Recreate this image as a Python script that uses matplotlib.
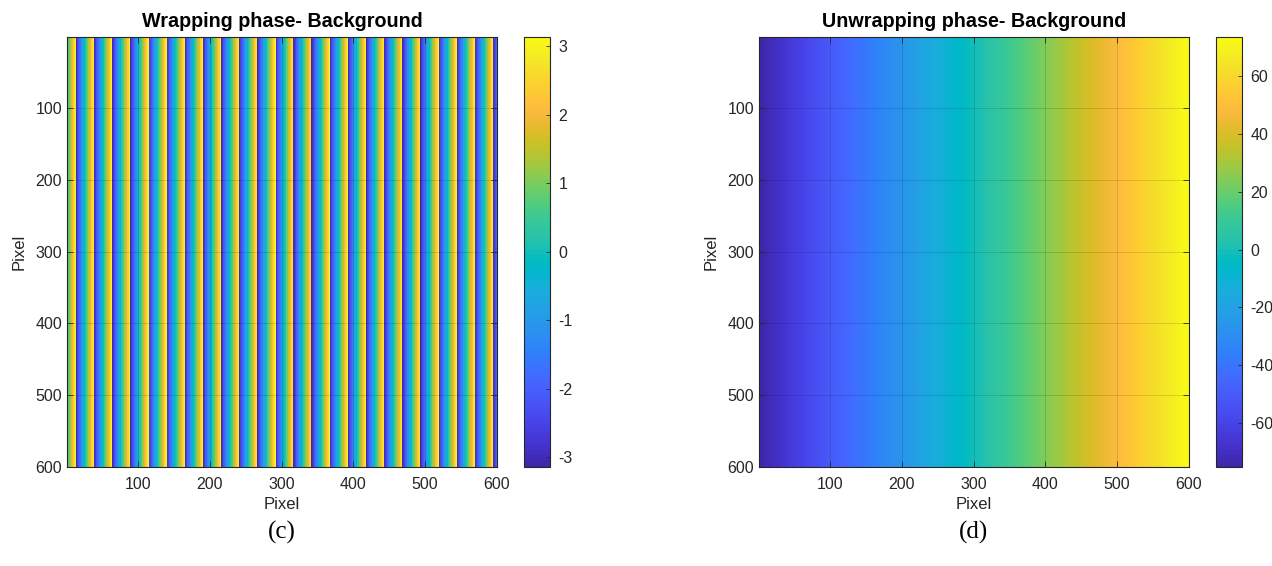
import numpy as np
import matplotlib
matplotlib.use("Agg")
import matplotlib.pyplot as plt
from matplotlib.colors import LinearSegmentedColormap

# MATLAB parula (64 entries)
PARULA = [
    [0.2422, 0.1504, 0.6603], [0.2504, 0.1650, 0.7076], [0.2578, 0.1818, 0.7511],
    [0.2647, 0.1978, 0.7952], [0.2706, 0.2147, 0.8364], [0.2751, 0.2342, 0.8710],
    [0.2783, 0.2559, 0.8991], [0.2803, 0.2782, 0.9221], [0.2813, 0.3006, 0.9414],
    [0.2810, 0.3228, 0.9579], [0.2795, 0.3447, 0.9717], [0.2760, 0.3667, 0.9829],
    [0.2699, 0.3892, 0.9906], [0.2602, 0.4123, 0.9952], [0.2440, 0.4358, 0.9988],
    [0.2206, 0.4603, 0.9973], [0.1963, 0.4847, 0.9892], [0.1834, 0.5074, 0.9798],
    [0.1786, 0.5289, 0.9682], [0.1764, 0.5499, 0.9520], [0.1687, 0.5703, 0.9359],
    [0.1540, 0.5902, 0.9218], [0.1460, 0.6091, 0.9079], [0.1380, 0.6276, 0.8973],
    [0.1248, 0.6459, 0.8883], [0.1113, 0.6635, 0.8763], [0.0952, 0.6798, 0.8598],
    [0.0689, 0.6948, 0.8394], [0.0297, 0.7082, 0.8163], [0.0036, 0.7203, 0.7917],
    [0.0067, 0.7312, 0.7660], [0.0433, 0.7411, 0.7394], [0.0964, 0.7500, 0.7120],
    [0.1408, 0.7584, 0.6842], [0.1717, 0.7670, 0.6554], [0.1938, 0.7758, 0.6251],
    [0.2161, 0.7843, 0.5923], [0.2470, 0.7918, 0.5567], [0.2906, 0.7973, 0.5188],
    [0.3406, 0.8008, 0.4789], [0.3909, 0.8029, 0.4354], [0.4456, 0.8024, 0.3909],
    [0.5044, 0.7993, 0.3480], [0.5616, 0.7942, 0.3045], [0.6174, 0.7876, 0.2612],
    [0.6720, 0.7793, 0.2227], [0.7242, 0.7698, 0.1910], [0.7738, 0.7598, 0.1646],
    [0.8203, 0.7498, 0.1535], [0.8634, 0.7406, 0.1596], [0.9035, 0.7330, 0.1774],
    [0.9393, 0.7288, 0.2100], [0.9728, 0.7298, 0.2394], [0.9956, 0.7434, 0.2371],
    [0.9970, 0.7659, 0.2199], [0.9952, 0.7893, 0.2028], [0.9892, 0.8136, 0.1885],
    [0.9786, 0.8386, 0.1766], [0.9676, 0.8639, 0.1643], [0.9610, 0.8890, 0.1537],
    [0.9597, 0.9135, 0.1423], [0.9628, 0.9373, 0.1265], [0.9691, 0.9606, 0.1064],
    [0.9769, 0.9839, 0.0805],
]
parula = LinearSegmentedColormap.from_list("parula", PARULA, N=256)

# background phase: 600x600 pixels, linear carrier along x
N_PIX = 600
PHASE_LEFT = -75.2    # unwrapped phase at column 1 (rad)
PHASE_RIGHT = 73.5    # unwrapped phase at column 600 (rad)
PIXEL_TICKS = [100, 200, 300, 400, 500, 600]
WRAP_TICKS = [-3, -2, -1, 0, 1, 2, 3]
UNWRAP_TICKS = [-60, -40, -20, 0, 20, 40, 60]
TITLES = ["Wrapping phase- Background", "Unwrapping phase- Background"]
CAPTIONS = ["(c)", "(d)"]

row = np.linspace(PHASE_LEFT, PHASE_RIGHT, N_PIX)
unwrapped = np.tile(row, (N_PIX, 1))
wrapped = np.angle(np.exp(1j * unwrapped))

plt.rcParams["font.family"] = ["Liberation Sans", "DejaVu Sans"]
plt.rcParams["axes.unicode_minus"] = False
TXT = "#262626"

fig = plt.figure(figsize=(12.72, 5.66), dpi=100)
W, H = 1272, 566


def rect(x0, y0, x1, y1):
    return [x0 / W, 1 - y1 / H, (x1 - x0) / W, (y1 - y0) / H]


panels = [
    (wrapped, WRAP_TICKS, rect(67, 37, 497, 467), rect(524, 37, 550, 467)),
    (unwrapped, UNWRAP_TICKS, rect(759, 37, 1189, 467), rect(1216, 37, 1242, 467)),
]

for (img, cticks, ax_r, cb_r), title, cap in zip(panels, TITLES, CAPTIONS):
    ax = fig.add_axes(ax_r)
    im = ax.imshow(img, cmap=parula, aspect="auto", interpolation="nearest",
                   extent=(0.5, N_PIX + 0.5, N_PIX + 0.5, 0.5))
    ax.set_xticks(PIXEL_TICKS)
    ax.set_yticks(PIXEL_TICKS)
    ax.tick_params(direction="in", length=4, width=0.6, labelsize=11.5,
                   colors=TXT, top=True, right=True)
    ax.tick_params(axis="x", pad=7)
    ax.grid(True, color="k", alpha=0.15, linewidth=0.6)
    ax.set_axisbelow(False)
    for s in ax.spines.values():
        s.set_linewidth(0.8)
        s.set_color(TXT)
    ax.set_xlabel("Pixel", fontsize=12, color=TXT, labelpad=4)
    ax.set_ylabel("Pixel", fontsize=12, color=TXT, labelpad=6)
    ax.set_title(title, fontsize=14.2, fontweight="bold", color="k", pad=7)

    cax = fig.add_axes(cb_r)
    cb = fig.colorbar(im, cax=cax)
    cb.set_ticks(cticks)
    cb.ax.tick_params(direction="in", length=3, width=0.6, labelsize=11.5,
                      colors=TXT, pad=6)
    cb.outline.set_linewidth(0.8)
    cb.outline.set_edgecolor(TXT)

    cx = (ax_r[0] + ax_r[2] / 2)
    fig.text(cx, 1 - 532 / H, cap, ha="center", va="center", fontsize=18,
             family=["Liberation Serif"])

fig.savefig("out.png", dpi=100)
